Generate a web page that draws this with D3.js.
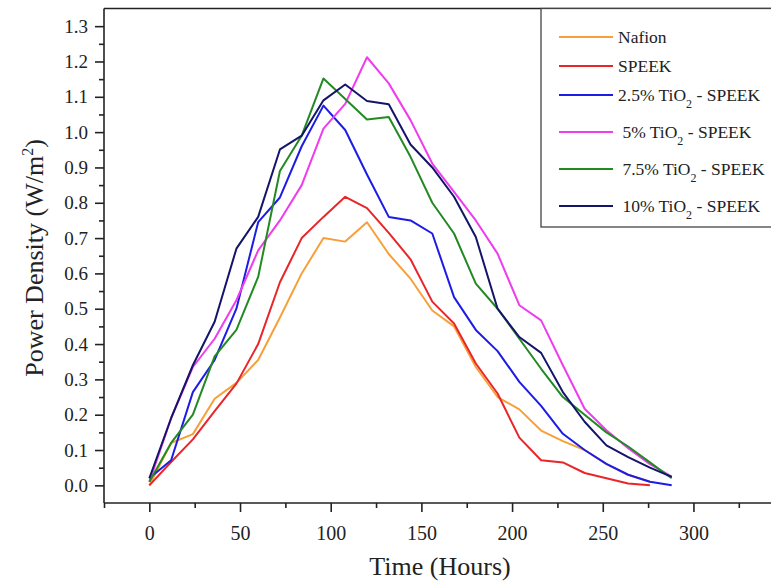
<!DOCTYPE html>
<html lang="en">
<head>
<meta charset="UTF-8">
<title>Power Density vs Time</title>
<style>
  body { margin: 0; background: #fff; }
  svg, svg text { font-family: "Liberation Serif", "Times New Roman", serif; }
  .axis path, .axis line { stroke: #222; stroke-width: 1.6px; }
  .axis text { font-size: 19px; fill: #222; }
  .series { fill: none; stroke-width: 2px; stroke-linejoin: round; }
  .legend text { font-size: 17.5px; fill: #222; white-space: pre; }
</style>
</head>
<body>
<div id="chart"></div>
<script src="https://d3js.org/d3.v7.min.js"></script>
<script>
// time in hours
const hours = [0, 12, 24, 36, 48, 60, 72, 84, 96, 108, 120, 132, 144, 156, 168, 180, 192, 204, 216, 228, 240, 252, 264, 276, 288];

// power density (W/m2) per membrane
const nafion  = [0.0, 0.12, 0.145, 0.245, 0.29, 0.355, 0.475, 0.60, 0.70, 0.69, 0.745, 0.655, 0.585, 0.495, 0.45, 0.335, 0.25, 0.215, 0.155, 0.125, 0.10, 0.06, 0.03, 0.01];
const speek   = [0.0, 0.066, 0.13, 0.21, 0.288, 0.40, 0.575, 0.70, 0.76, 0.817, 0.785, 0.715, 0.64, 0.52, 0.458, 0.345, 0.26, 0.135, 0.071, 0.065, 0.035, 0.02, 0.005, 0.0];
const tio25   = [0.02, 0.071, 0.264, 0.355, 0.50, 0.745, 0.815, 0.96, 1.075, 1.006, 0.88, 0.76, 0.75, 0.713, 0.533, 0.44, 0.38, 0.293, 0.225, 0.146, 0.10, 0.061, 0.03, 0.01, 0.0];
const tio5    = [0.01, 0.19, 0.335, 0.415, 0.524, 0.665, 0.75, 0.85, 1.01, 1.08, 1.212, 1.138, 1.034, 0.911, 0.831, 0.75, 0.656, 0.51, 0.467, 0.34, 0.217, 0.156, 0.105, 0.06, 0.025];
const tio75   = [0.01, 0.12, 0.20, 0.365, 0.44, 0.59, 0.89, 0.99, 1.152, 1.094, 1.036, 1.043, 0.93, 0.80, 0.713, 0.571, 0.50, 0.415, 0.33, 0.25, 0.20, 0.15, 0.11, 0.065, 0.02];
const tio10   = [0.02, 0.19, 0.34, 0.463, 0.67, 0.76, 0.951, 0.99, 1.09, 1.135, 1.088, 1.079, 0.965, 0.90, 0.817, 0.703, 0.50, 0.42, 0.375, 0.264, 0.18, 0.113, 0.08, 0.05, 0.024];

const seriesNames  = ["Nafion", "SPEEK", "2.5% TiO2 - SPEEK", " 5% TiO2 - SPEEK", " 7.5% TiO2 - SPEEK", " 10% TiO2 - SPEEK"];
const seriesColors = ["#f7a03a", "#e8262a", "#1c1ce6", "#ee3cee", "#238a23", "#14146a"];
const seriesValues = [nafion, speek, tio25, tio5, tio75, tio10];

const xTicks = [0, 50, 100, 150, 200, 250, 300];
const xMinor = [-25, 25, 75, 125, 175, 225, 275, 325];
const yTicks = [0.0, 0.1, 0.2, 0.3, 0.4, 0.5, 0.6, 0.7, 0.8, 0.9, 1.0, 1.1, 1.2, 1.3];
const yMinor = [0.05, 0.15, 0.25, 0.35, 0.45, 0.55, 0.65, 0.75, 0.85, 0.95, 1.05, 1.15, 1.25];

const W = 771, H = 583;
const serif = '"Liberation Serif", "Times New Roman", serif';
const plot = { left: 104, right: 766, top: 8.5, bottom: 503 };

const svg = d3.select("#chart").append("svg")
  .attr("width", W).attr("height", H);

const x = d3.scaleLinear().domain([-25, 340]).range([plot.left, plot.right]);
const y = d3.scaleLinear().domain([-0.05, 1.35]).range([plot.bottom, plot.top]);

// minor ticks first (no labels)
svg.append("g").attr("class", "axis")
  .attr("transform", `translate(0,${plot.bottom})`)
  .call(d3.axisBottom(x).tickValues(xMinor).tickSize(5).tickFormat(""))
  .select(".domain").remove();
svg.append("g").attr("class", "axis")
  .attr("transform", `translate(${plot.left},0)`)
  .call(d3.axisLeft(y).tickValues(yMinor).tickSize(5).tickFormat(""))
  .select(".domain").remove();

// major axes
const xAxis = svg.append("g").attr("class", "axis")
  .attr("transform", `translate(0,${plot.bottom})`)
  .call(d3.axisBottom(x).tickValues(xTicks).tickSize(9).tickPadding(9).tickSizeOuter(0));
xAxis.attr("font-family", serif);
xAxis.select(".domain").attr("d", `M${plot.left},0H${W}`);
xAxis.selectAll("text").attr("dy", "0.95em")
  .style("font-family", serif).style("font-size", "20px");

const yAxis = svg.append("g").attr("class", "axis")
  .attr("transform", `translate(${plot.left},0)`)
  .call(d3.axisLeft(y).tickValues(yTicks).tickSize(9).tickPadding(7).tickSizeOuter(0).tickFormat(d3.format(".1f")));
yAxis.attr("font-family", serif);
yAxis.select(".domain").attr("d", `M0,${plot.bottom}V${plot.top}`);
yAxis.selectAll("text").style("font-family", serif).style("font-size", "19px");

// top frame line
svg.append("line")
  .attr("x1", plot.left).attr("x2", W)
  .attr("y1", plot.top).attr("y2", plot.top)
  .attr("stroke", "#222").attr("stroke-width", 1.6);

// data lines
const line = d3.line().x(d => x(d[0])).y(d => y(d[1]));
seriesValues.forEach((vals, i) => {
  const pts = vals.map((v, j) => [hours[j], v]);
  svg.append("path")
    .attr("class", "series")
    .attr("stroke", seriesColors[i])
    .attr("d", line(pts));
});

// legend
const lg = svg.append("g").attr("class", "legend");
lg.append("rect")
  .attr("x", 541).attr("y", plot.top)
  .attr("width", 260).attr("height", 227 - plot.top)
  .attr("fill", "#fff").attr("stroke", "#444").attr("stroke-width", 1.3);

let rowY = 37;
seriesNames.forEach((name, i) => {
  lg.append("line")
    .attr("x1", 559).attr("x2", 613)
    .attr("y1", rowY).attr("y2", rowY)
    .attr("stroke", seriesColors[i]).attr("stroke-width", 2.2);
  const t = lg.append("text").attr("x", 618).attr("y", rowY + 6)
    .style("font-family", serif);
  const k = name.indexOf("TiO2");
  if (k >= 0) {
    t.append("tspan").text(name.slice(0, k + 3));
    t.append("tspan").attr("dy", 7).style("font-size", "12px").text("2");
    t.append("tspan").attr("dy", -7).text(name.slice(k + 4));
  } else {
    t.text(name);
  }
  rowY += k >= 0 ? 37 : 29;
});

// axis titles
svg.append("text")
  .attr("x", 440).attr("y", 575)
  .attr("text-anchor", "middle")
  .style("font-family", serif)
  .style("font-size", "26px").attr("fill", "#222")
  .text("Time (Hours)");

const yt = svg.append("text")
  .attr("transform", "translate(43,258) rotate(-90)")
  .attr("text-anchor", "middle")
  .style("font-family", serif)
  .style("font-size", "26px").attr("fill", "#222");
yt.append("tspan").text("Power Density (W/m");
yt.append("tspan").attr("dy", -10).style("font-size", "16px").text("2");
yt.append("tspan").attr("dy", 10).text(")");
</script>
</body>
</html>
